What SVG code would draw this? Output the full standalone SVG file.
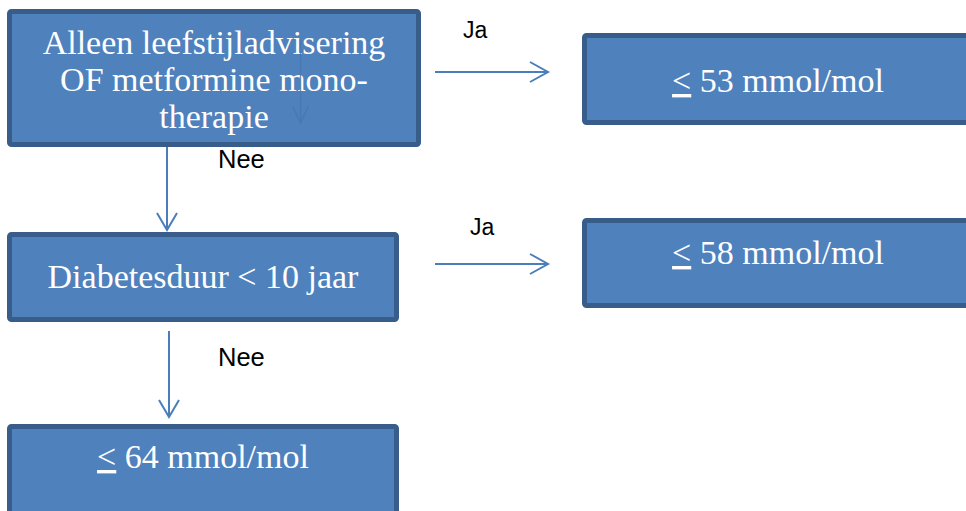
<svg xmlns="http://www.w3.org/2000/svg" width="966" height="511" viewBox="0 0 966 511">
<style>
.box{fill:#4f81bd;stroke:#385d8a;stroke-width:5}
.bt{font-family:"Liberation Serif","Times New Roman",serif;font-size:34px;fill:#ffffff;text-anchor:middle}
.lbl{font-family:"Liberation Sans",Arial,sans-serif;font-size:23px;fill:#000000}
.nee{font-size:25.5px}
.con{fill:none;stroke:#4a7ebb;stroke-width:2}
.u{text-decoration:underline}
</style>
<rect width="966" height="511" fill="#ffffff"/>
<g id="node-start">
<rect class="box" x="9.5" y="11.5" width="409" height="133" rx="2"/>
<text class="bt" x="214" y="54" font-size="34.5">Alleen leefstijladvisering</text>
<text class="bt" x="214" y="91" font-size="34.5">OF metformine mono-</text>
<text class="bt" x="214" y="128" font-size="34.5">therapie</text>
<path d="M300.5 40 V123 M292.5 106 L300.5 123 L308.5 106" fill="none" stroke="#4677b2" stroke-width="1.5" opacity="0.8"/>
</g>
<g id="node-53">
<rect class="box" x="584.5" y="35.5" width="400" height="87" rx="2"/>
<text class="bt" x="778" y="92"><tspan class="u">&lt;</tspan> 53 mmol/mol</text>
</g>
<g id="node-duur">
<rect class="box" x="9.5" y="234.5" width="387" height="85" rx="2"/>
<text class="bt" x="203" y="288">Diabetesduur &lt; 10 jaar</text>
</g>
<g id="node-58">
<rect class="box" x="584.5" y="220.5" width="400" height="85" rx="2"/>
<text class="bt" x="778" y="264"><tspan class="u">&lt;</tspan> 58 mmol/mol</text>
</g>
<g id="node-64">
<rect class="box" x="9.5" y="426.5" width="387" height="90" rx="2"/>
<text class="bt" x="203" y="468"><tspan class="u">&lt;</tspan> 64 mmol/mol</text>
</g>
<g id="connectors">
<path class="con" d="M167 147 V230 M157 213 L167 230 L177 213"/>
<path class="con" d="M169 331 V417 M159 400 L169 417 L179 400"/>
<path class="con" d="M435 72 H548 M530 62 L548 72 L530 82"/>
<path class="con" d="M435 264 H548 M530 254 L548 264 L530 274"/>
</g>
<g id="labels">
<text class="lbl" x="463" y="38">Ja</text>
<text class="lbl" x="470" y="235">Ja</text>
<text class="lbl nee" x="218" y="168">Nee</text>
<text class="lbl nee" x="218" y="366">Nee</text>
</g>
</svg>
